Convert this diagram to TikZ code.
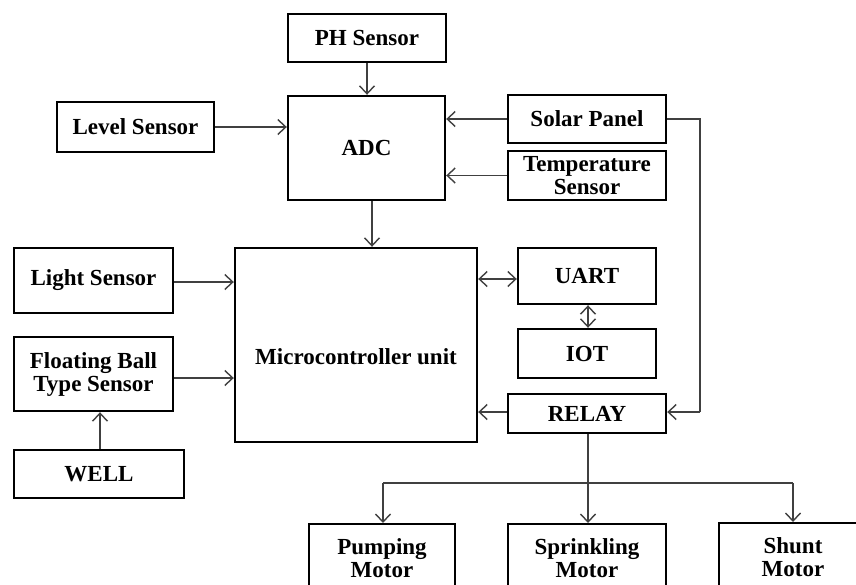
\documentclass[tikz,border=0pt]{standalone}
\usepackage{fontspec}
\setmainfont{Liberation Serif}
\usetikzlibrary{arrows.meta}
\begin{document}
\begin{tikzpicture}[x=1pt,y=-1pt,
  box/.style={draw=black, line width=2.4pt, rectangle, inner sep=0pt, align=center,
    font=\bfseries\fontsize{23}{24}\selectfont},
  txt/.style={inner sep=0pt, align=center, font=\bfseries\fontsize{23}{24}\selectfont},
  conn/.style={draw=black!75, line width=1.4pt},
  arr/.style={conn, -{Straight Barb[length=8pt,width=15pt,line width=1.4pt]}},
  darr/.style={conn, {Straight Barb[length=8pt,width=15pt,line width=1.4pt]}-{Straight Barb[length=8pt,width=15pt,line width=1.4pt]}}]
\useasboundingbox (0,0) rectangle (856,584);
\clip (0,0) rectangle (856,584);
\fill[white] (0,0) rectangle (856,584);
% boxes
\node[box, minimum width=158pt, minimum height=48pt] (ph) at (367,38) {PH Sensor};
\node[box, minimum width=157pt, minimum height=104pt] (adc) at (366.5,148) {ADC};
\node[box, minimum width=157pt, minimum height=50pt] (level) at (135.5,127) {Level Sensor};
\node[box, minimum width=158pt, minimum height=48pt] (solar) at (587,119) {Solar Panel};
\node[box, minimum width=158pt, minimum height=49pt] (temp) at (587,175.5) {Temperature\\[-1pt]Sensor};
\node[box, minimum width=159pt, minimum height=65pt] (light) at (93.5,280.5) {Light Sensor};
\node[box, minimum width=242pt, minimum height=194pt] (mcu) at (356,345) {};
\node[txt] (mcut) at (356,357) {Microcontroller unit};
\node[box, minimum width=159pt, minimum height=74pt] (fb) at (93.5,374) {Floating Ball\\[-1pt]Type Sensor};
\node[box, minimum width=170pt, minimum height=48pt] (well) at (99,474) {WELL};
\node[box, minimum width=138pt, minimum height=56pt] (uart) at (587,276) {UART};
\node[box, minimum width=138pt, minimum height=49pt] (iot) at (587,353.5) {IOT};
\node[box, minimum width=158pt, minimum height=39pt] (relay) at (587,413.5) {RELAY};
\node[box, minimum width=146pt, minimum height=100pt, anchor=north] (pump) at (382,523) {};
\node[txt] (pumpt) at (382,558) {Pumping\\[-1pt]Motor};
\node[box, minimum width=158pt, minimum height=100pt, anchor=north] (sprink) at (587,523) {};
\node[txt] (sprinkt) at (587,558) {Sprinkling\\[-1pt]Motor};
\node[box, minimum width=170pt, minimum height=100pt, anchor=north west] (shunt) at (718,522) {};
\node[txt] (shuntt) at (793,557) {Shunt\\[-1pt]Motor};
% coordinates
\coordinate (sr) at (700,119);
\coordinate (rr) at (700,412);
\coordinate (bl) at (383,483);
\coordinate (bm) at (588,483);
\coordinate (br) at (793,483);
% connectors
\draw[arr] (ph.south) -- (ph.south |- adc.north);
\draw[arr] (level.east) -- (level.east -| adc.west);
\draw[arr] (solar.west) -- (solar.west -| adc.east);
\draw[arr] (temp.west) -- (temp.west -| adc.east);
\draw[arr] (adc.south -| 372,0) -- (372,0 |- mcu.north);
\draw[arr] (light.east |- 0,282) -- (mcu.west |- 0,282);
\draw[arr] (fb.east |- 0,378) -- (mcu.west |- 0,378);
\draw[arr] (well.north -| 100,0) -- (100,0 |- fb.south);
\draw[darr] (mcu.east |- 0,279) -- (uart.west |- 0,279);
\draw[darr] (uart.south -| 588,0) -- (588,0 |- iot.north);
\draw[arr] (relay.west |- 0,412) -- (mcu.east |- 0,412);
\draw[conn] (solar.east) -- (sr) -- (rr);
\draw[arr] (rr) -- (relay.east |- rr);
\draw[arr] (relay.south -| 588,0) -- (588,0 |- sprink.north);
\draw[conn] (bl) -- (br);
\draw[arr] (bl) -- (bl |- pump.north);
\draw[arr] (br) -- (br |- shunt.north);
\end{tikzpicture}
\end{document}
